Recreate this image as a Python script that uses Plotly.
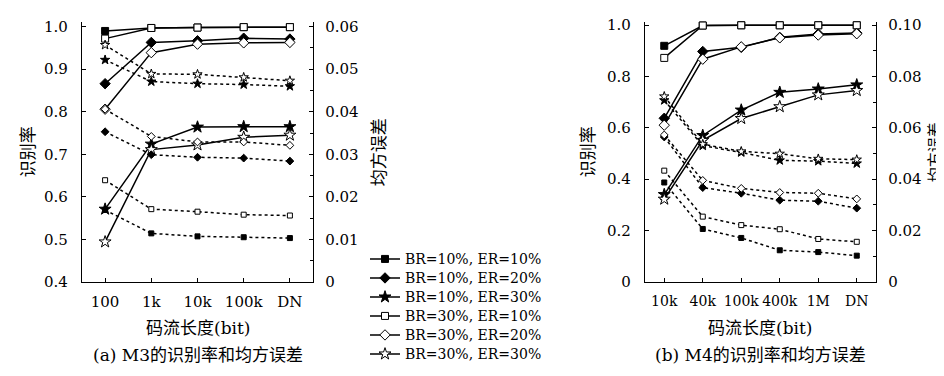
import plotly.graph_objects as go

# ---------------- data ----------------
cats_m3 = ["100", "1k", "10k", "100k", "DN"]
cats_m4 = ["10k", "40k", "100k", "400k", "1M", "DN"]

series_names = ["BR=10%, ER=10%", "BR=10%, ER=20%", "BR=10%, ER=30%",
                "BR=30%, ER=10%", "BR=30%, ER=20%", "BR=30%, ER=30%"]

# M3: recognition rate (left axis)
m3_rate_b10e10 = [0.990, 0.997, 0.998, 0.999, 0.999]
m3_rate_b10e20 = [0.866, 0.963, 0.967, 0.973, 0.971]
m3_rate_b10e30 = [0.571, 0.724, 0.764, 0.765, 0.765]
m3_rate_b30e10 = [0.972, 0.997, 0.998, 0.999, 0.999]
m3_rate_b30e20 = [0.806, 0.939, 0.959, 0.962, 0.963]
m3_rate_b30e30 = [0.494, 0.711, 0.722, 0.740, 0.745]
# M3: mean squared error (right axis)
m3_mse_b10e10 = [0.0169, 0.0114, 0.0107, 0.0105, 0.0103]
m3_mse_b10e20 = [0.0353, 0.0299, 0.0293, 0.0291, 0.0284]
m3_mse_b10e30 = [0.0522, 0.0471, 0.0466, 0.0464, 0.0460]
m3_mse_b30e10 = [0.0239, 0.0171, 0.0165, 0.0158, 0.0156]
m3_mse_b30e20 = [0.0406, 0.0342, 0.0329, 0.0329, 0.0321]
m3_mse_b30e30 = [0.0557, 0.0489, 0.0488, 0.0481, 0.0473]

# M4: recognition rate (left axis)
m4_rate_b10e10 = [0.919, 0.998, 0.999, 0.999, 0.999, 0.999]
m4_rate_b10e20 = [0.637, 0.897, 0.913, 0.952, 0.965, 0.969]
m4_rate_b10e30 = [0.340, 0.570, 0.669, 0.738, 0.751, 0.767]
m4_rate_b30e10 = [0.872, 0.998, 0.999, 0.999, 0.999, 0.999]
m4_rate_b30e20 = [0.610, 0.867, 0.915, 0.950, 0.961, 0.966]
m4_rate_b30e30 = [0.322, 0.551, 0.636, 0.682, 0.728, 0.745]
# M4: mean squared error (right axis)
m4_mse_b10e10 = [0.0387, 0.0206, 0.0171, 0.0123, 0.0116, 0.0102]
m4_mse_b10e20 = [0.0564, 0.0367, 0.0345, 0.0318, 0.0314, 0.0287]
m4_mse_b10e30 = [0.0707, 0.0530, 0.0504, 0.0473, 0.0470, 0.0461]
m4_mse_b30e10 = [0.0433, 0.0254, 0.0221, 0.0205, 0.0167, 0.0156]
m4_mse_b30e20 = [0.0572, 0.0395, 0.0364, 0.0348, 0.0345, 0.0323]
m4_mse_b30e30 = [0.0722, 0.0536, 0.0508, 0.0499, 0.0479, 0.0476]

# tick labels
m3_rate_ticks = [0.4, 0.5, 0.6, 0.7, 0.8, 0.9, 1.0]
m3_rate_ticktext = ["0.4", "0.5", "0.6", "0.7", "0.8", "0.9", "1.0"]
m3_mse_ticks = [0, 0.01, 0.02, 0.03, 0.04, 0.05, 0.06]
m3_mse_ticktext = ["0", "0.01", "0.02", "0.03", "0.04", "0.05", "0.06"]
m4_rate_ticks = [0, 0.2, 0.4, 0.6, 0.8, 1.0]
m4_rate_ticktext = ["0", "0.2", "0.4", "0.6", "0.8", "1.0"]
m4_mse_ticks = [0, 0.02, 0.04, 0.06, 0.08, 0.10]
m4_mse_ticktext = ["0", "0.02", "0.04", "0.06", "0.08", "0.10"]

x_title = "码流长度(bit)"
y_left_title = "识别率"
y_right_title = "均方误差"
caption_a = "(a) M3的识别率和均方误差"
caption_b = "(b) M4的识别率和均方误差"

# ---------------- styling ----------------
FONT = "DejaVu Serif"
FONT_CJK = "DejaVu Serif, Noto Sans CJK SC"
FS = 15
LEG_FS = 14
symbols = ["square", "diamond", "star", "square", "diamond", "star"]
fills = ["black", "black", "black", "white", "white", "white"]
size_solid = [7, 8, 9, 7, 8, 9]
size_dot = [5, 6, 7, 5, 6, 7]

m3_rates = [m3_rate_b10e10, m3_rate_b10e20, m3_rate_b10e30,
            m3_rate_b30e10, m3_rate_b30e20, m3_rate_b30e30]
m3_mses = [m3_mse_b10e10, m3_mse_b10e20, m3_mse_b10e30,
           m3_mse_b30e10, m3_mse_b30e20, m3_mse_b30e30]
m4_rates = [m4_rate_b10e10, m4_rate_b10e20, m4_rate_b10e30,
            m4_rate_b30e10, m4_rate_b30e20, m4_rate_b30e30]
m4_mses = [m4_mse_b10e10, m4_mse_b10e20, m4_mse_b10e30,
           m4_mse_b30e10, m4_mse_b30e20, m4_mse_b30e30]

fig = go.Figure()


def add_series(cats, vals, xa, ya, i, dotted, legend):
    fig.add_trace(go.Scatter(
        x=cats, y=vals, xaxis=xa, yaxis=ya,
        mode="lines+markers",
        name="<span style='font-size:%dpx'>%s</span>" % (LEG_FS, series_names[i]),
        legendgroup=series_names[i],
        showlegend=legend,
        line=dict(color="black", width=1.5, dash="dot" if dotted else "solid"),
        marker=dict(symbol=symbols[i], size=(size_dot if dotted else size_solid)[i],
                    color=fills[i], line=dict(color="black", width=1)),
        cliponaxis=False,
    ))


for i in range(6):
    add_series(cats_m3, m3_mses[i], "x", "y2", i, True, False)
    add_series(cats_m4, m4_mses[i], "x3", "y4", i, True, False)
for i in range(6):
    add_series(cats_m3, m3_rates[i], "x", "y", i, False, True)
    add_series(cats_m4, m4_rates[i], "x3", "y3", i, False, False)

W, H = 944, 376
def px_x(v):
    return v / W
def px_y(v):
    return 1 - v / H

ydom = [px_y(279), px_y(8.8)]
x1dom = [px_x(74), px_x(305)]
x3dom = [px_x(637), px_x(868)]

axis_common = dict(showline=True, linecolor="black", linewidth=1.3,
                   ticks="inside", ticklen=4, tickwidth=1, tickcolor="black",
                   showgrid=False, zeroline=False,
                   tickfont=dict(family=FONT, size=FS, color="black"))

fig.update_layout(
    width=W, height=H, autosize=False,
    margin=dict(l=0, r=0, t=0, b=0),
    paper_bgcolor="white", plot_bgcolor="white",
    font=dict(family=FONT, size=FS, color="black"),
    xaxis=dict(domain=x1dom, anchor="y", type="category", range=[-0.5, 4.5],
               tickangle=0, ticklabelstandoff=6, **axis_common),
    yaxis=dict(domain=ydom, anchor="x", range=[0.4, 1.01],
               tickvals=m3_rate_ticks, ticktext=m3_rate_ticktext,
               ticklabelstandoff=10, **axis_common),
    yaxis2=dict(overlaying="y", side="right", anchor="x", range=[0, 0.061],
                tickvals=m3_mse_ticks, ticktext=m3_mse_ticktext,
                minor=dict(ticks="inside", ticklen=2.5, tickwidth=1, tickcolor="black",
                           tickvals=[0.005, 0.015, 0.025, 0.035, 0.045, 0.055]),
                ticklabelstandoff=8, **axis_common),
    xaxis3=dict(domain=x3dom, anchor="y3", type="category", range=[-0.5, 5.5],
                tickangle=0, ticklabelstandoff=6, **axis_common),
    yaxis3=dict(domain=ydom, anchor="x3", range=[0, 1.01],
                tickvals=m4_rate_ticks, ticktext=m4_rate_ticktext,
                ticklabelstandoff=10, **axis_common),
    yaxis4=dict(overlaying="y3", side="right", anchor="x3", range=[0, 0.101],
                tickvals=m4_mse_ticks, ticktext=m4_mse_ticktext,
                minor=dict(ticks="inside", ticklen=2.5, tickwidth=1, tickcolor="black",
                           tickvals=[0.01, 0.03, 0.05, 0.07, 0.09]),
                ticklabelstandoff=8, **axis_common),
    legend=dict(x=px_x(357), xanchor="left", y=px_y(240), yanchor="top",
                bgcolor="rgba(0,0,0,0)", font=dict(family=FONT, size=12, color="black"),
                itemwidth=30, tracegroupgap=0, traceorder="normal"),
    showlegend=True,
)
fig.update_xaxes(tickfont=dict(family=FONT, size=14, color="black"), selector=dict(anchor="y3"))

ann_font = dict(family=FONT_CJK, size=17, color="black")
annotations = [
    dict(text=y_left_title, x=px_x(20), y=px_y(144), textangle=-90),
    dict(text=y_right_title, x=px_x(371), y=px_y(144), textangle=-90),
    dict(text=y_left_title, x=px_x(580), y=px_y(144), textangle=-90),
    dict(text=y_right_title, x=px_x(927), y=px_y(144), textangle=-90,
         font=dict(family=FONT_CJK, size=15, color="black")),
    dict(text=x_title, x=px_x(190), y=px_y(327)),
    dict(text=x_title, x=px_x(752), y=px_y(327)),
    dict(text=caption_a, x=px_x(190), y=px_y(355)),
    dict(text=caption_b, x=px_x(752), y=px_y(355)),
]
for a in annotations:
    a.setdefault("font", ann_font)
    a.update(xref="paper", yref="paper", showarrow=False,
             xanchor="center", yanchor="middle")
fig.update_layout(annotations=annotations)

fig.write_html("out.html")
